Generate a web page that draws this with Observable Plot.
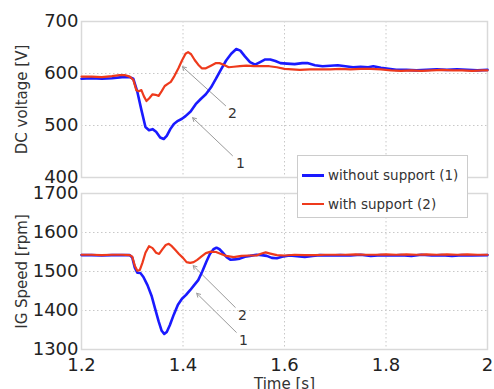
<!DOCTYPE html>
<html><head><meta charset="utf-8">
<script src="https://cdn.jsdelivr.net/npm/d3@7"></script>
<script src="https://cdn.jsdelivr.net/npm/@observablehq/plot@0.6"></script>
<style>
body{margin:0;background:#fff;font-family:"DejaVu Sans",Verdana,sans-serif;}
#wrap{position:relative;width:494px;height:389px;overflow:hidden;}
#top,#bot{position:absolute;left:0;}
#top{top:0;} #bot{top:182px;}
#legend{position:absolute;left:297px;top:155px;width:169px;height:61px;background:#fff;border:1px solid #ccc;font-size:13.5px;color:#333;}
.li{position:absolute;left:4px;display:flex;align-items:center;white-space:nowrap;}
.sw{width:22px;margin-right:4px;}
</style></head>
<body><div id="wrap"><div id="top"></div><div id="bot"></div>
<div id="legend">
<div class="li" style="top:11px"><div class="sw" style="height:3px;background:#1a1aff"></div><span>without support (1)</span></div>
<div class="li" style="top:40px"><div class="sw" style="height:2px;background:#ee3a1c"></div><span>with support (2)</span></div>
</div></div>
<script>
const seriesNames = ["without support (1)", "with support (2)"];
const xTicks = [1.2, 1.4, 1.6, 1.8, 2];
const vTicks = [400, 500, 600, 700];
const sTicks = [1300, 1400, 1500, 1600, 1700];

const tBlueV = [1.200,1.220,1.240,1.260,1.280,1.295,1.302,1.310,1.318,1.326,1.333,1.340,1.347,1.355,1.362,1.368,1.375,1.382,1.390,1.398,1.405,1.415,1.425,1.435,1.445,1.455,1.465,1.475,1.485,1.495,1.505,1.513,1.522,1.532,1.542,1.552,1.562,1.572,1.582,1.592,1.605,1.620,1.635,1.645,1.660,1.675,1.690,1.705,1.720,1.735,1.750,1.765,1.775,1.790,1.805,1.820,1.840,1.860,1.880,1.900,1.920,1.940,1.960,1.980,2.000];
const vBlue  = [590,591,590,591,593,593,590,565,530,497,491,493,488,477,474,480,493,503,509,513,518,527,541,551,560,573,590,608,625,638,647,644,633,622,617,622,627,627,624,620,619,618,620,620,616,614,615,616,614,612,613,612,614,611,609,607,607,606,607,608,607,608,607,606,607];

const tRedV = [1.200,1.220,1.240,1.260,1.275,1.285,1.295,1.302,1.308,1.313,1.318,1.323,1.328,1.334,1.340,1.346,1.352,1.358,1.364,1.370,1.376,1.383,1.391,1.398,1.405,1.410,1.416,1.423,1.430,1.437,1.445,1.455,1.465,1.472,1.480,1.490,1.500,1.512,1.525,1.540,1.555,1.570,1.585,1.600,1.615,1.630,1.650,1.670,1.690,1.710,1.730,1.750,1.770,1.790,1.810,1.830,1.850,1.870,1.890,1.910,1.930,1.950,1.970,1.990,2.000];
const vRed  = [594,594,593,595,597,597,594,588,568,566,568,556,547,553,560,559,557,566,576,580,584,595,610,625,638,641,637,626,617,610,610,615,620,620,617,612,613,614,615,614,614,614,612,609,608,607,608,608,608,609,608,609,609,608,606,605,606,605,606,607,606,606,605,606,606];

const tBlueS = [1.200,1.220,1.240,1.260,1.280,1.295,1.300,1.305,1.310,1.316,1.322,1.330,1.338,1.345,1.352,1.358,1.363,1.368,1.374,1.382,1.390,1.398,1.406,1.414,1.422,1.430,1.438,1.446,1.453,1.460,1.466,1.472,1.478,1.486,1.494,1.502,1.512,1.522,1.532,1.545,1.555,1.565,1.575,1.585,1.595,1.610,1.625,1.640,1.655,1.670,1.690,1.710,1.730,1.750,1.770,1.790,1.810,1.830,1.850,1.870,1.890,1.910,1.930,1.950,1.970,2.000];
const sBlue  = [1542,1542,1541,1542,1542,1542,1536,1510,1497,1496,1486,1465,1438,1405,1372,1348,1340,1345,1362,1390,1415,1430,1440,1452,1465,1478,1500,1525,1545,1557,1561,1557,1549,1537,1530,1531,1533,1538,1540,1543,1542,1540,1535,1534,1538,1541,1539,1537,1540,1542,1541,1542,1541,1543,1540,1542,1541,1542,1540,1543,1541,1542,1540,1542,1541,1542];

const tRedS = [1.200,1.220,1.240,1.260,1.280,1.295,1.300,1.305,1.310,1.315,1.320,1.326,1.333,1.340,1.347,1.353,1.360,1.366,1.372,1.378,1.385,1.392,1.400,1.407,1.414,1.421,1.428,1.436,1.445,1.455,1.465,1.475,1.485,1.500,1.515,1.530,1.545,1.555,1.563,1.572,1.585,1.600,1.620,1.640,1.660,1.680,1.700,1.720,1.740,1.760,1.780,1.800,1.820,1.840,1.860,1.880,1.900,1.920,1.940,1.960,1.980,2.000];
const sRed  = [1543,1543,1542,1543,1543,1542,1538,1515,1502,1504,1522,1548,1565,1560,1548,1545,1558,1568,1571,1565,1555,1545,1535,1524,1522,1524,1530,1538,1547,1551,1550,1545,1540,1537,1540,1541,1541,1546,1549,1546,1542,1541,1543,1542,1542,1543,1543,1543,1544,1543,1543,1544,1543,1544,1543,1544,1543,1544,1543,1544,1543,1543];

// annotation labels and arrows (data coordinates)
const annLabels = ["2", "1"];
const annTopText = [[1.4975, 523], [1.513, 427]];
const annTopArrow = [[1.484, 538, 1.399, 613], [1.4975, 442, 1.419, 515]];
const annBotText = [[1.517, 1387], [1.519, 1323]];
const annBotArrow = [[1.503, 1408, 1.42, 1515], [1.505, 1344, 1.427, 1444]];

const BLUE = "#1a1aff", RED = "#ee3a1c";
const zip = (t, v) => t.map((x, i) => ({x, y: v[i]}));
const font = "DejaVu Sans";

function panel({height, mt, mb, yDomain, yTicks, yLabel, blue, red, txt, arr, showX}) {
  const textData = txt.map((d, i) => ({x: d[0], y: d[1], l: annLabels[i]}));
  const arrData = arr.map(d => ({x1: d[0], y1: d[1], x2: d[2], y2: d[3]}));
  const marks = [
    Plot.gridX(xTicks, {stroke: "#c8c8c8", strokeOpacity: 1, strokeDasharray: "1.5,2.5"}),
    Plot.gridY(yTicks, {stroke: "#c8c8c8", strokeOpacity: 1, strokeDasharray: "1.5,2.5"}),
    Plot.frame({stroke: "#d9d9d9", strokeWidth: 1.5}),
    Plot.axisY(yTicks, {tickSize: 0, tickPadding: 3, fontSize: 18, label: null, fill: "#222", tickFormat: d => String(d)}),
    Plot.text([yLabel], {frameAnchor: "left", textAnchor: "middle", dx: -59, rotate: -90, fontSize: 15, fill: "#333"}),
    Plot.arrow(arrData, {x1: "x1", y1: "y1", x2: "x2", y2: "y2", stroke: "#9a9a9a", strokeWidth: 1, headLength: 6}),
    Plot.text(textData, {x: "x", y: "y", text: "l", fontSize: 14, fill: "#333"}),
    Plot.line(zip(blue[0], blue[1]), {x: "x", y: "y", stroke: BLUE, strokeWidth: 2.6}),
    Plot.line(zip(red[0], red[1]), {x: "x", y: "y", stroke: RED, strokeWidth: 2.2})
  ];
  if (showX) {
    marks.push(Plot.axisX(xTicks, {tickSize: 0, tickPadding: 9, fontSize: 18, label: null, fill: "#222", tickFormat: d => String(d)}));
    marks.push(Plot.text(["Time [s]"], {frameAnchor: "bottom", lineAnchor: "bottom", dy: 39, fontSize: 15, fill: "#333"}));
  }
  return Plot.plot({
    width: 494, height, marginLeft: 81, marginRight: 7, marginTop: mt, marginBottom: mb,
    style: {fontFamily: font, background: "transparent", overflow: "visible"},
    x: {domain: [1.2, 2], axis: null},
    y: {domain: yDomain, axis: null},
    marks
  });
}

document.getElementById("top").append(panel({
  height: 182, mt: 21, mb: 5, yDomain: [400, 700], yTicks: vTicks, yLabel: "DC voltage [V]",
  blue: [tBlueV, vBlue], red: [tRedV, vRed], txt: annTopText, arr: annTopArrow, showX: false
}));
document.getElementById("bot").append(panel({
  height: 207, mt: 11, mb: 40, yDomain: [1300, 1700], yTicks: sTicks, yLabel: "IG Speed [rpm]",
  blue: [tBlueS, sBlue], red: [tRedS, sRed], txt: annBotText, arr: annBotArrow, showX: true
}));
</script></body></html>
